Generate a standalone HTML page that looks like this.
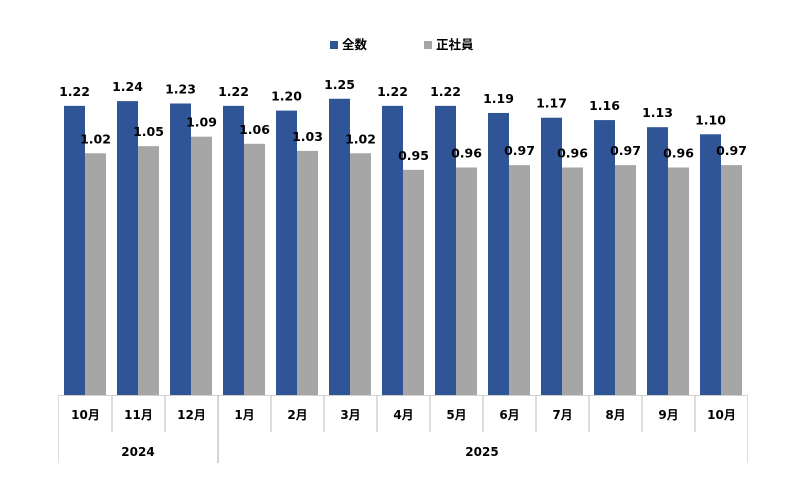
<!DOCTYPE html>
<html><head><meta charset="utf-8"><style>
html,body{margin:0;padding:0;background:#fff;}
svg{display:block;}
text{font-family:"DejaVu Sans","Noto Sans CJK JP",sans-serif;font-weight:bold;fill:#000;}
</style></head><body>
<svg id="c" width="800" height="494" viewBox="0 0 800 494" xmlns="http://www.w3.org/2000/svg">
<rect width="800" height="494" fill="#fff"/>
<rect x="330" y="41" width="8" height="8" fill="#2F5597"/>
<text x="342" y="49" font-size="12.5">全数</text>
<rect x="424" y="41" width="8" height="8" fill="#A6A6A6"/>
<text x="436" y="49" font-size="12.5">正社員</text>
<g id="g"></g>
</svg>
<script>
var a=[1.22,1.24,1.23,1.22,1.20,1.25,1.22,1.22,1.19,1.17,1.16,1.13,1.10];
var b=[1.02,1.05,1.09,1.06,1.03,1.02,0.95,0.96,0.97,0.96,0.97,0.96,0.97];
var m=["10月","11月","12月","1月","2月","3月","4月","5月","6月","7月","8月","9月","10月"];
var s="",B=395,k=237,W=53,X0=59;
for(var i=0;i<13;i++){
 var x=X0+i*W+5,h1=a[i]*k,h2=b[i]*k;
 s+='<rect x="'+x+'" y="'+(B-h1)+'" width="21" height="'+h1+'" fill="#2F5597"/>';
 s+='<rect x="'+(x+21)+'" y="'+(B-h2)+'" width="21" height="'+h2+'" fill="#A6A6A6"/>';
 s+='<text x="'+(x+10.5)+'" y="'+(B-h1-10)+'" font-size="12.5" text-anchor="middle">'+a[i].toFixed(2)+'</text>';
 s+='<text x="'+(x+31.5)+'" y="'+(B-h2-10)+'" font-size="12.5" text-anchor="middle">'+b[i].toFixed(2)+'</text>';
 s+='<text x="'+(X0+i*W+26.5)+'" y="419" font-size="12" text-anchor="middle">'+m[i]+'</text>';
 if(i>0&&i!=3) s+='<line x1="'+(X0+i*W)+'" y1="395" x2="'+(X0+i*W)+'" y2="432" stroke="#bbb" stroke-width="1"/>';
}
s+='<line x1="'+X0+'" y1="395.5" x2="747" y2="395.5" stroke="#d0d0d0" stroke-width="1"/>';
s+='<line x1="58.5" y1="395" x2="58.5" y2="463" stroke="#ddd" stroke-width="1"/>';
s+='<line x1="747.5" y1="395" x2="747.5" y2="463" stroke="#ddd" stroke-width="1"/>';
s+='<line x1="218" y1="395" x2="218" y2="463" stroke="#aaa" stroke-width="1"/>';
s+='<text x="138" y="456" font-size="12" text-anchor="middle">2024</text>';
s+='<text x="482" y="456" font-size="12" text-anchor="middle">2025</text>';
document.getElementById("g").innerHTML=s;
</script>
</body></html>
